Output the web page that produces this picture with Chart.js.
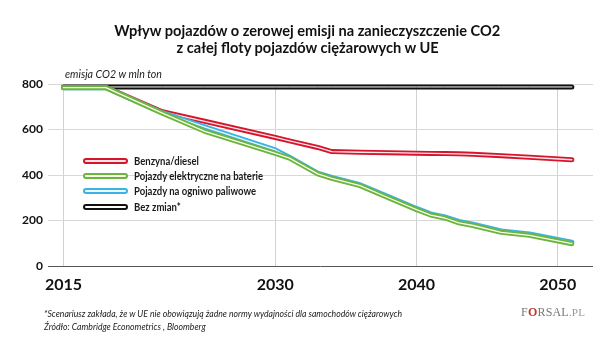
<!DOCTYPE html>
<html><head><meta charset="utf-8">
<script src="https://cdn.jsdelivr.net/npm/chart.js@4.4.1/dist/chart.umd.min.js"></script>
<style>
html,body{margin:0;padding:0;background:#fff;}
#wrap{position:relative;width:615px;height:362px;overflow:hidden;font-family:Lato,"Liberation Sans",sans-serif;color:#1a1a1a;}
#c{position:absolute;left:0;top:0;}
.title{position:absolute;left:0;width:615px;top:21px;text-align:center;font-weight:bold;font-size:16px;line-height:17px;color:#111;}
.title span{display:inline-block;white-space:nowrap;transform-origin:center;}
.unit{position:absolute;left:65px;top:67px;font-style:italic;font-size:12px;line-height:14px;color:#222;white-space:nowrap;transform-origin:left center;}
.legend{position:absolute;left:83px;top:153px;}
.legend .row{height:15.3px;display:flex;align-items:center;white-space:nowrap;}
.legend .pill{flex:none;width:41px;height:2px;border-width:2px;border-style:solid;border-radius:4px;background:#fff;margin-right:6px;}
.legend .txt{display:inline-block;font-weight:bold;font-size:11px;line-height:12px;transform-origin:left center;}
.foot{position:absolute;left:44px;top:307px;font-style:italic;font-size:10px;line-height:13px;color:#222;transform-origin:left top;}
.foot span{white-space:nowrap;}
.logo{position:absolute;left:521px;top:305px;font-family:"Liberation Serif","DejaVu Serif",serif;font-size:12px;color:#777;letter-spacing:0.2px;white-space:nowrap;}
.logo .o{color:#c0392b;font-weight:bold;}
.logo .pl{color:#999;font-size:11px;}
</style>
</head><body>
<div id="wrap">
<canvas id="c" width="615" height="362"></canvas>
<div class="title"><span id="t1">Wpływ pojazdów o zerowej emisji na zanieczyszczenie CO2</span><br><span id="t2">z całej floty pojazdów ciężarowych w UE</span></div>
<div class="unit" id="unit">emisja CO2 w mln ton</div>
<div class="legend" id="legend"></div>
<div class="foot" id="foot"><span id="f1">*Scenariusz zakłada, że w UE nie obowiązują żadne normy wydajności dla samochodów ciężarowych</span><br><span>Źródło: Cambridge Econometrics , Bloomberg</span></div>
<div class="logo">F<span class="o">O</span>RSAL<span class="pl">.PL</span></div>
</div>
<script>
// ---- data ----
const years = [2015, 2018, 2022, 2025, 2030, 2031, 2033, 2034, 2036, 2038, 2040, 2041, 2042, 2043, 2044, 2046, 2048, 2051];
const benzynaDiesel = [785, 785, 678, 636, 565, 550, 521, 503, 500, 498, 496, 495, 494, 493, 491, 485, 478, 467];
const elektryczne   = [784, 784, 672, 592, 495, 474, 405, 385, 353, 300, 248, 224, 211, 190, 178, 148, 135, 98];
const ogniwo        = [784, 784, 674, 612, 510, 478, 408, 389, 357, 305, 253, 229, 216, 196, 184, 154, 141, 105];
const bezZmian      = [787, 787, 787, 787, 787, 787, 787, 787, 787, 787, 787, 787, 787, 787, 787, 787, 787, 787];
const seriesLabels = ['Benzyna/diesel', 'Pojazdy elektryczne na baterie', 'Pojazdy na ogniwo paliwowe', 'Bez zmian*'];
const xTickLabels = [2015, 2030, 2040, 2050];
const yTickValues = [0, 200, 400, 600, 800];

const toPts = arr => arr.map((v, i) => ({x: years[i], y: v}));

const styles = [
  {color: '#d4152b', core: '#fde6e9', order: 2},
  {color: '#6cb33f', core: '#f6ffe6', order: 0},
  {color: '#3bb2e2', core: '#eef9ff', order: 1},
  {color: '#111111', core: '#ffffff', order: 3}
];
const values = [benzynaDiesel, elektryczne, ogniwo, bezZmian];

const datasets = values.map((arr, i) => ({
  label: seriesLabels[i],
  data: toPts(arr),
  borderColor: styles[i].color,
  borderWidth: 5,
  borderCapStyle: 'round',
  borderJoinStyle: 'round',
  pointRadius: 0,
  tension: 0,
  order: styles[i].order,
  coreColor: styles[i].core,
  coreWidth: i === 3 ? 1 : 1.3,
  clip: false
}));

const corePlugin = {
  id: 'core',
  afterDatasetDraw(chart, args) {
    const ds = chart.data.datasets[args.index];
    const pts = args.meta.data;
    const ctx = chart.ctx;
    ctx.save();
    ctx.beginPath();
    pts.forEach((p, i) => i ? ctx.lineTo(p.x, p.y) : ctx.moveTo(p.x, p.y));
    ctx.strokeStyle = ds.coreColor;
    ctx.lineWidth = ds.coreWidth;
    ctx.lineJoin = 'round';
    ctx.lineCap = 'round';
    ctx.stroke();
    ctx.restore();
  }
};

const FONT = 'Lato,"Liberation Sans",sans-serif';

new Chart(document.getElementById('c'), {
  type: 'line',
  data: {datasets},
  options: {
    responsive: false,
    animation: false,
    layout: {padding: {left: 0, right: 22, top: 84, bottom: 66}},
    plugins: {legend: {display: false}, tooltip: {enabled: false}, title: {display: false}},
    scales: {
      x: {
        type: 'linear', min: 2013.9, max: 2052.5,
        afterBuildTicks: s => { s.ticks = xTickLabels.map(v => ({value: v})); },
        afterFit: s => { s.height = 30; },
        grid: {color: '#d2d2d2', lineWidth: 1, drawTicks: false},
        border: {display: false},
        ticks: {padding: 9, color: '#111', font: {family: FONT, size: 16, weight: 'bold'}, callback: v => String(v), maxRotation: 0, autoSkip: false}
      },
      y: {
        min: 0, max: 800,
        afterBuildTicks: s => { s.ticks = yTickValues.map(v => ({value: v})); },
        afterFit: s => { s.width = 48; },
        grid: {color: c => c.tick && c.tick.value === 0 ? '#555' : '#d8d8d8', lineWidth: 1, drawTicks: false},
        border: {display: false},
        ticks: {padding: 5, color: '#111', font: {family: FONT, size: 12, weight: 'bold'}, callback: v => String(v)}
      }
    }
  },
  plugins: [corePlugin]
});

// HTML legend from the dataset labels/colours
const lg = document.getElementById('legend');
const txts = [];
seriesLabels.forEach((lab, i) => {
  const row = document.createElement('div');
  row.className = 'row';
  const pill = document.createElement('span');
  pill.className = 'pill';
  pill.style.borderColor = styles[i].color;
  pill.style.background = styles[i].core;
  const t = document.createElement('span');
  t.className = 'txt';
  t.textContent = lab;
  row.appendChild(pill); row.appendChild(t);
  lg.appendChild(row);
  txts.push(t);
});

// squeeze text horizontally to the reference's condensed face
function fitAll() {
  const sx = (el, w) => w / el.getBoundingClientRect().width;
  const reset = el => { el.style.transform = 'none'; };
  const t1 = document.getElementById('t1'), t2 = document.getElementById('t2');
  [t1, t2].forEach(reset);
  const st = sx(t1, 386);
  t1.style.transform = t2.style.transform = `scaleX(${st})`;
  const unit = document.getElementById('unit'); reset(unit);
  unit.style.transform = `scaleX(${sx(unit, 97)})`;
  txts.forEach(reset);
  const sl = sx(txts[1], 129);
  txts.forEach(t => t.style.transform = `scaleX(${sl})`);
  const foot = document.getElementById('foot'); reset(foot);
  const f1 = document.getElementById('f1');
  foot.style.transform = `scaleX(${sx(f1, 358)})`;
}
fitAll();
if (document.fonts && document.fonts.ready) document.fonts.ready.then(fitAll);
</script>
</body></html>
